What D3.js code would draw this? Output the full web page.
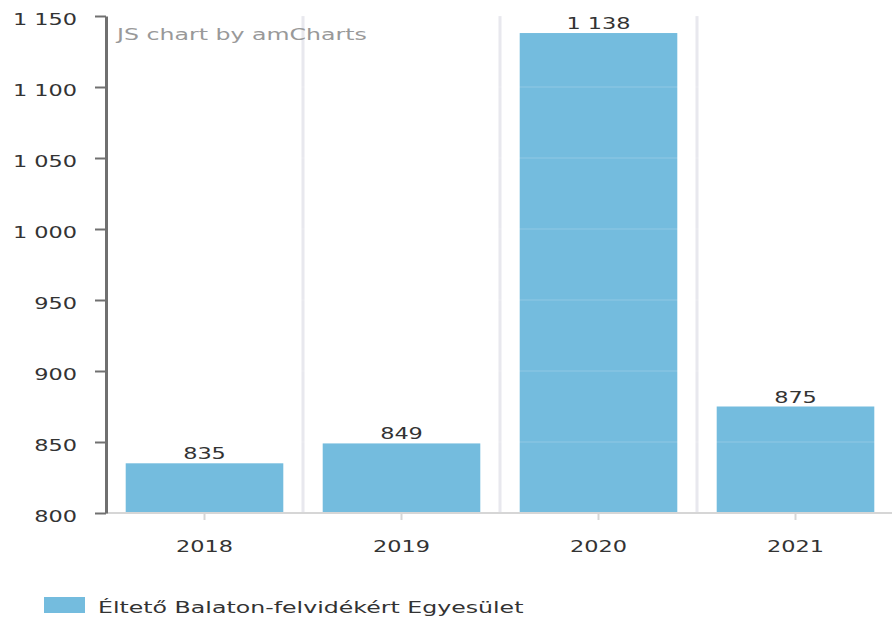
<!DOCTYPE html>
<html>
    <head>
        <style>
            body { margin: 0; background: #fff; }
            text { font-family: "DejaVu Sans", Verdana, sans-serif; }
        </style>
    </head>
    <body>
        <svg></svg>

        <script src="https://d3js.org/d3.v7.min.js"></script>

        <script>
            const years = ["2018", "2019", "2020", "2021"];
            const values = [835, 849, 1138, 875];
            const yTicks = [800, 850, 900, 950, 1000, 1050, 1100, 1150];
            const seriesName = "Éltető Balaton-felvidékért Egyesület";

            const width = 892,
                height = 622;
            const plotLeft = 106, plotRight = 894, plotTop = 16, plotBottom = 513;
            // the reference text looks stretched sideways
            const sxNum = 1.4, sxTxt = 1.48;

            const fmt = function(d) {
                return d3.format(",")(d).replace(/,/g, " ");
            };

            const x = d3.scaleBand()
                        .domain(years)
                        .range([plotLeft, plotRight])
                        .paddingInner(0.2)
                        .paddingOuter(0.1);

            const xCat = d3.scaleBand()
                        .domain(years)
                        .range([plotLeft, plotRight]);

            const y = d3.scaleLinear()
                        .domain([800, 1150])
                        .range([plotBottom, plotTop]);

            const svg = d3.select("svg")
                        .attr("width", width)
                        .attr("height", height);

            // category separators
            svg.selectAll(".sep")
                .data(years.slice(1))
                .enter()
                .append("line")
                .attr("x1", d => xCat(d)).attr("x2", d => xCat(d))
                .attr("y1", plotTop).attr("y2", plotBottom)
                .attr("stroke", "#e8e8ee")
                .attr("stroke-width", 3);

            // bars
            svg.selectAll(".bar")
                .data(values)
                .enter()
                .append("rect")
                .attr("x", (d, i) => x(years[i]))
                .attr("width", x.bandwidth())
                .attr("y", d => y(d))
                .attr("height", d => plotBottom - y(d))
                .attr("fill", "#74bcde");

            // faint horizontal gridlines over bars
            svg.selectAll(".grid")
                .data(yTicks.slice(1))
                .enter()
                .append("line")
                .attr("x1", plotLeft).attr("x2", plotRight)
                .attr("y1", d => y(d)).attr("y2", d => y(d))
                .attr("stroke", "#ffffff")
                .attr("stroke-opacity", 0.1)
                .attr("stroke-width", 2);

            // x baseline
            svg.append("line")
                .attr("x1", plotLeft).attr("x2", plotRight)
                .attr("y1", plotBottom).attr("y2", plotBottom)
                .attr("stroke", "#d6d6d6")
                .attr("stroke-width", 2);

            // x axis
            const xAxis = svg.append("g")
                .attr("transform", "translate(0," + plotBottom + ")")
                .call(d3.axisBottom(xCat).tickSize(7));
            xAxis.select(".domain").remove();
            xAxis.selectAll(".tick line").attr("stroke", "#d6d6d6").attr("stroke-width", 2);
            xAxis.selectAll("text")
                .attr("font-size", 16).attr("fill", "#333")
                .attr("x", 0).attr("y", 39).attr("dy", null)
                .attr("transform", "scale(" + sxNum + ",1)");

            // y axis
            const yAxis = svg.append("g")
                .attr("transform", "translate(" + plotLeft + ",0)")
                .call(d3.axisLeft(y).tickValues(yTicks).tickFormat(fmt).tickSize(11).tickSizeOuter(0));
            yAxis.select(".domain").attr("stroke", "#707070").attr("stroke-width", 3);
            yAxis.selectAll(".tick line").attr("stroke", "#707070").attr("stroke-width", 2);
            yAxis.selectAll("text")
                .attr("font-size", 16).attr("fill", "#333")
                .attr("x", -29 / sxNum).attr("dy", "0.55em")
                .attr("transform", "scale(" + sxNum + ",1)");

            // value labels
            svg.selectAll(".lbl")
                .data(values)
                .enter()
                .append("text")
                .attr("transform", (d, i) => "translate(" + (x(years[i]) + x.bandwidth() / 2) + "," + (y(d) - 4) + ") scale(" + sxNum + ",1)")
                .attr("text-anchor", "middle")
                .attr("font-size", 16)
                .attr("fill", "#333")
                .text(fmt);

            // credit
            svg.append("text")
                .attr("transform", "translate(117,40) scale(" + sxTxt + ",1)")
                .attr("font-size", 16)
                .attr("fill", "#999")
                .text("JS chart by amCharts");

            // legend
            svg.append("rect")
                .attr("x", 44).attr("y", 597)
                .attr("width", 41).attr("height", 16)
                .attr("fill", "#74bcde");
            svg.append("text")
                .attr("transform", "translate(98,613) scale(" + sxTxt + ",1)")
                .attr("font-size", 16)
                .attr("fill", "#333")
                .text(seriesName);
        </script>
    </body>
</html>
